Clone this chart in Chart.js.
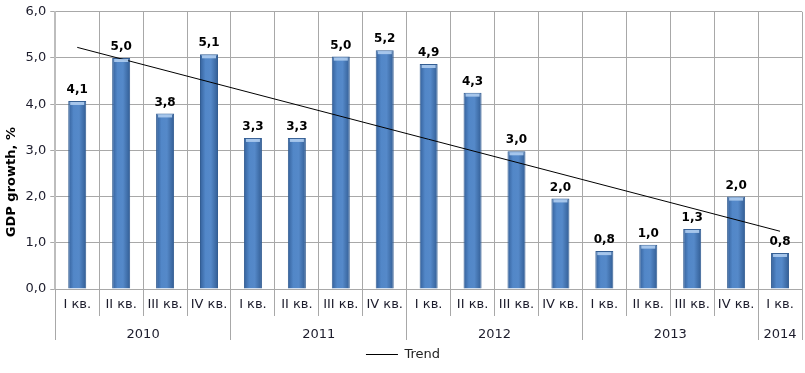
<!DOCTYPE html>
<html>
<head>
<meta charset="utf-8">
<script src="https://cdn.jsdelivr.net/npm/chart.js@4/dist/chart.umd.min.js"></script>
<style>
  html, body { margin: 0; padding: 0; background: #fff; }
  #wrap { width: 805px; height: 373px; position: relative; }
</style>
</head>
<body>
<div id="wrap"><canvas id="gdp"></canvas></div>
<script>
// ============ Data ============
const quarters = ['I кв.', 'II кв.', 'III кв.', 'IV кв.',
                  'I кв.', 'II кв.', 'III кв.', 'IV кв.',
                  'I кв.', 'II кв.', 'III кв.', 'IV кв.',
                  'I кв.', 'II кв.', 'III кв.', 'IV кв.',
                  'I кв.'];
const growth = [4.07, 5.0, 3.8, 5.08, 3.27, 3.27, 5.03, 5.17, 4.87, 4.25, 2.98, 1.96,
                0.82, 0.96, 1.3, 2.0, 0.78];
// trend line ends (first and last quarter)
const trend = [5.23, null, null, null, null, null, null, null, null, null, null, null,
               null, null, null, null, 1.25];
const years = ['2010', '2011', '2012', '2013', '2014'];
const yearCenters = [2, 6, 10, 14, 16.5];
const yearBounds = [0, 4, 8, 12, 16, 17];

// ============ Helpers ============
const fmt = v => v.toFixed(1).replace('.', ',');
const GRID = '#a8a8a8';

function barFill(ctx) {
    const chart = ctx.chart;
    const el = chart.getDatasetMeta(0).data[ctx.dataIndex];
    if (!el || !isFinite(el.x) || !el.width) return '#4f81bd';
    const g = chart.ctx.createLinearGradient(el.x - el.width / 2, 0, el.x + el.width / 2, 0);
    g.addColorStop(0, '#34609a');
    g.addColorStop(0.3, '#5287c8');
    g.addColorStop(0.6, '#5589c9');
    g.addColorStop(1, '#325d94');
    return g;
}

// value labels above the bars + light cap on top
const barLabels = {
    id: 'barLabels',
    afterDatasetsDraw(chart) {
        const c = chart.ctx;
        const meta = chart.getDatasetMeta(0);
        c.save();
        meta.data.forEach((bar, i) => {
            const w = bar.width;
            c.fillStyle = 'rgba(175,205,240,0.9)';
            c.fillRect(bar.x - w / 2 + 2, bar.y + 1, w - 4, 3);
            c.font = 'bold 12px "DejaVu Sans"';
            c.fillStyle = '#000';
            c.textAlign = 'center';
            c.textBaseline = 'bottom';
            c.fillText(fmt(growth[i]), bar.x, bar.y - 5);
        });
        c.restore();
    }
};

Chart.defaults.font.family = '"DejaVu Sans", Verdana, sans-serif';
Chart.defaults.font.size = 13;
Chart.defaults.color = '#1c1c2c';

const chart = new Chart(document.getElementById('gdp'), {
    type: 'bar',
    data: {
        labels: quarters,
        datasets: [{
            label: 'GDP growth',
            data: growth,
            backgroundColor: barFill,
            borderColor: '#335d92',
            borderWidth: 1,
            barPercentage: 0.41,
            categoryPercentage: 1,
            order: 2
        }, {
            type: 'line',
            label: 'Trend',
            data: trend,
            spanGaps: true,
            borderColor: '#000',
            backgroundColor: '#000',
            borderWidth: 1,
            pointRadius: 0,
            order: 1
        }]
    },
    options: {
        responsive: true,
        maintainAspectRatio: false,
        animation: false,
        layout: { padding: { left: 4, right: 3, top: 2, bottom: 2 } },
        plugins: {
            tooltip: { enabled: false },
            legend: {
                display: true,
                position: 'bottom',
                labels: {
                    filter: item => item.datasetIndex === 1,
                    usePointStyle: true,
                    pointStyle: 'line',
                    pointStyleWidth: 32,
                    color: '#222',
                    font: { size: 13 },
                    padding: 6
                }
            }
        },
        scales: {
            y: {
                min: 0,
                max: 6,
                ticks: { stepSize: 1, callback: v => fmt(v), padding: 4 },
                grid: { color: GRID, tickLength: 5 },
                border: { color: '#bdbdbd', width: 2 },
                title: {
                    display: true,
                    // trailing spaces push the rotated title down, as in the original
                    text: 'GDP growth, %              ',
                    font: { weight: 'bold', size: 13 },
                    color: '#000',
                    padding: { top: 0, bottom: 2 }
                }
            },
            x: {
                offset: true,
                grid: { color: GRID, offset: true, tickLength: 27 },
                border: { color: GRID },
                ticks: { autoSkip: false, maxRotation: 0, padding: -19 },
                afterFit(scale) { scale.height = 27; }
            },
            x2: {
                type: 'linear',
                position: 'bottom',
                min: 0,
                max: 17,
                offset: false,
                afterBuildTicks(scale) {
                    scale.ticks = yearBounds.concat(yearCenters)
                        .sort((a, b) => a - b)
                        .map(v => ({ value: v }));
                },
                ticks: {
                    autoSkip: false,
                    maxRotation: 0,
                    padding: -13,
                    callback: v => {
                        const k = yearCenters.indexOf(v);
                        return k >= 0 ? years[k] : '';
                    }
                },
                grid: {
                    offset: false,
                    drawOnChartArea: false,
                    tickLength: 24,
                    tickColor: ctx => (ctx.tick && yearBounds.includes(ctx.tick.value)) ? GRID : 'rgba(0,0,0,0)'
                },
                border: { display: false },
                afterFit(scale) { scale.height = 26; }
            }
        }
    },
    plugins: [barLabels]
});
chart.update('none');
</script>
</body>
</html>
